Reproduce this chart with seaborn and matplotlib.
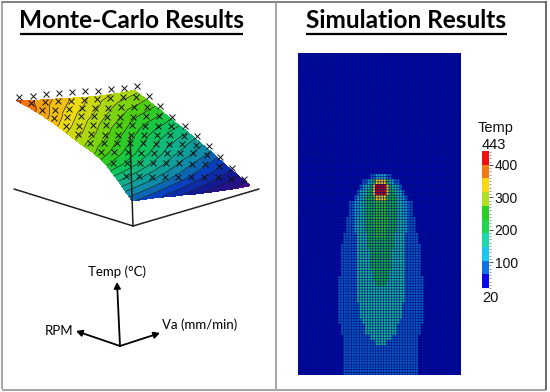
import numpy as np
import pandas as pd
import seaborn as sns
import matplotlib.pyplot as plt
from matplotlib.colors import ListedColormap, LinearSegmentedColormap

# -----------------------------
# Data
# -----------------------------

# surface: height (px-like temp units), rows = Va, columns = RPM
va_vals = [0.0, 0.103, 0.207, 0.31, 0.413, 0.517, 0.62, 0.723, 0.827, 0.93]
rpm_vals = [0.0, 0.106, 0.213, 0.319, 0.426, 0.532, 0.639, 0.745, 0.852, 0.958]
surface_temp = [
    [25, 40, 54, 62, 67, 73, 79, 84, 88, 91],
    [23, 37, 50, 58, 63, 70, 75, 80, 84, 87],
    [21, 34, 46, 54, 60, 66, 71, 76, 80, 84],
    [18, 31, 42, 50, 56, 62, 67, 72, 77, 81],
    [16, 28, 38, 46, 52, 58, 63, 69, 74, 78],
    [13, 25, 34, 42, 48, 54, 60, 65, 71, 75],
    [11, 22, 30, 38, 44, 50, 56, 62, 67, 72],
    [9, 19, 27, 35, 41, 47, 53, 59, 64, 70],
    [7, 16, 24, 31, 38, 44, 51, 57, 63, 68],
    [6, 13, 20, 28, 35, 42, 48, 55, 61, 67],
]

# monte-carlo points
mc_rpm = [0.05, 0.15, 0.25, 0.34, 0.44, 0.54, 0.64, 0.74, 0.83, 0.93]
mc_temp = [
    [48, 58, 65, 71, 76, 81, 85, 89, 93, 96],
    [44, 54, 61, 67, 72, 77, 82, 86, 90, 93],
    [40, 50, 57, 63, 68, 74, 79, 83, 87, 91],
    [36, 46, 53, 59, 64, 70, 75, 80, 84, 88],
    [32, 42, 49, 55, 60, 66, 71, 76, 81, 85],
    [28, 38, 45, 51, 56, 62, 67, 72, 78, 82],
    [24, 34, 41, 47, 52, 58, 63, 69, 75, 79],
    [20, 30, 37, 43, 48, 54, 60, 66, 72, 77],
    [15, 24, 31, 38, 44, 50, 56, 62, 69, 74],
    [11, 18, 26, 33, 40, 46, 52, 59, 66, 72],
]

surface_colors = ["#4b0a8c", "#14148c", "#0a3cc0", "#0f8fa8", "#12b48c", "#10c850",
                  "#3ccc10", "#a8d810", "#f0dc10", "#f59a10", "#e82a10"]

# plate: half width in cells of each temperature zone, per row band below the tip
zone_temps = [80, 130, 170, 215, 250, 320, 430]
zone_halfwidth = [
    [4, 7, 8, 9, 10, 12, 12, 12, 13, 13, 13, 14, 14, 15, 15, 15, 15, 15, 15, 16, 16, 16, 16, 16, 16,
     16, 16, 16, 15, 15, 14, 14, 14, 14, 14, 14, 14, 14],
    [2, 5, 7, 8, 9, 10, 10, 10, 10, 10, 10, 9, 9],
    [0, 4, 6, 7, 7, 8, 8, 8, 9, 9, 9, 9, 9, 9, 9, 9, 9, 9, 9, 9, 9, 9, 9, 9, 8, 8, 8, 7, 6, 6, 4, 2],
    [0, 3, 4, 5, 6, 6, 6, 6, 6, 6, 6, 5, 5, 5, 4, 4, 4, 4, 3, 3, 2],
    [0, 2, 3, 3, 3, 2, 2, 2, 3, 3, 2, 2],
    [0, 2, 3, 3, 2],
    [0, 0, 2, 2],
]

# colorbar
bar_temps = [422, 380, 337, 295, 253, 210, 168, 126, 83, 41]
bar_colors = ["#f01010", "#f57a10", "#f8d810", "#b0e020", "#28d020",
              "#20d850", "#18dcb0", "#18c8f0", "#1070e8", "#0808e8"]
plate_colors = ["#0008a8", "#0a5cc8", "#10a8c8", "#14c0a0", "#14b840",
                "#30c420", "#a8d420", "#f0cc10", "#f07010", "#c00808"]
bar_ticks = [100, 200, 300, 400]

# -----------------------------
# Figure and layout
# -----------------------------

W, H = 550, 392
sns.set_theme(style="white")
plt.rcParams["font.family"] = ["Liberation Sans", "DejaVu Sans"]

fig = plt.figure(figsize=(W / 100, H / 100), dpi=100, facecolor="white")


def px_axes(x0, y0, x1, y1):
    return fig.add_axes([x0 / W, 1 - y1 / H, (x1 - x0) / W, (y1 - y0) / H])


bg = px_axes(0, 0, W, H)
bg.set_xlim(0, W)
bg.set_ylim(H, 0)
bg.axis("off")

# frame
for xs, ys, col in [([1.5, 1.5], [1, 389], "#8c8c8c"), ([1.5, 546], [1.5, 1.5], "#606060"),
                    ([1.5, 546], [389.5, 389.5], "#8c8c8c"), ([275.5, 275.5], [1, 389], "#8c8c8c"),
                    ([546, 546], [1, 390], "#404040")]:
    bg.plot(xs, ys, color=col, lw=1.1, solid_capstyle="butt")

# titles
for txt, x, x0, x1 in [("Monte-Carlo Results", 131.5, 20, 243), ("Simulation Results", 406.5, 306, 507)]:
    bg.text(x, 28, txt, family="Lato", weight="bold", fontsize=17.6, ha="center", va="baseline", color="black")
    bg.plot([x0, x1], [34, 34], color="black", lw=1.6, solid_capstyle="butt")


# -----------------------------
# Left panel: projected surface
# -----------------------------

def project(va, rpm, temp):
    sx = 133 + 126 * va - 119 * rpm - 0.03 * temp
    sy = 226 - 37 * va - 36 * rpm - temp
    return sx, sy


va_g, rpm_g = np.meshgrid(va_vals, rpm_vals, indexing="ij")
z = np.array(surface_temp, dtype=float)
sx, sy = project(va_g, rpm_g, z)

cmap = LinearSegmentedColormap.from_list("surf", surface_colors)
levels = np.linspace(4, 94, 23)
bg.contourf(sx, sy, z, levels=levels, cmap=cmap, zorder=2)
bg.contour(sx, sy, z, levels=levels[1:-1], colors="#1a1a1a", linewidths=0.45, zorder=3)

# base axes of the 3d view
for xs, ys in [([14, 133], [189, 226]), ([133, 259], [226, 189]), ([130, 133], [136, 226])]:
    bg.plot(xs, ys, color="#202020", lw=1.1, zorder=5)

mc_va, mc_r = np.meshgrid(va_vals, mc_rpm, indexing="ij")
mx, my = project(mc_va, mc_r, np.array(mc_temp, dtype=float))
points = pd.DataFrame({"x": mx.ravel(), "y": my.ravel()})
sns.scatterplot(data=points, x="x", y="y", marker="x", s=18, color="#101010", linewidth=0.7, ax=bg, zorder=4)
bg.set_xlim(0, W)
bg.set_ylim(H, 0)
bg.axis("off")

# axis key
for tip in [(117, 282), (76, 331), (160, 333)]:
    bg.annotate("", xy=tip, xytext=(120, 346),
                arrowprops=dict(arrowstyle="-|>,head_width=0.16,head_length=0.3", color="black", lw=1.3,
                                shrinkA=0, shrinkB=0))
bg.text(117, 272, "Temp (°C)", family="Lato", fontsize=9.5, ha="center", va="center", color="black")
bg.text(59, 331, "RPM", family="Lato", fontsize=9.5, ha="center", va="center", color="black")
bg.text(162, 325, "Va (mm/min)", family="Lato", fontsize=9.5, ha="left", va="center", color="black")

# -----------------------------
# Right panel: plate heatmap
# -----------------------------

n_rows, n_cols = 120, 61
center = 30.7
first_row = 45
band_rows = 2

plate = np.full((n_rows, n_cols), 25.0)
cols = np.arange(n_cols) + 0.5
for temp, widths in zip(zone_temps, zone_halfwidth):
    for k, half in enumerate(widths):
        if half == 0:
            continue
        r0 = first_row + k * band_rows
        plate[r0:r0 + band_rows, np.abs(cols - center) <= half] = temp

ax = px_axes(298, 53, 461, 375)
sns.heatmap(plate, ax=ax, vmin=20, vmax=443, cmap=ListedColormap(plate_colors), cbar=False,
            xticklabels=False, yticklabels=False)
# the dark mesh of the model
ax.hlines(range(n_rows + 1), 0, n_cols, color="#000a78", lw=0.6, alpha=0.75, snap=False)
ax.vlines(range(n_cols + 1), 0, n_rows, color="#000a78", lw=0.6, alpha=0.75, snap=False)

# colorbar
cax = px_axes(482, 151, 489, 288)
sns.heatmap(np.array(bar_temps).reshape(-1, 1), ax=cax, vmin=20, vmax=443,
            cmap=ListedColormap(bar_colors[::-1]), cbar=False, xticklabels=False)
to_pos = lambda v: (443 - v) / 423 * len(bar_temps)
cax.yaxis.tick_right()
cax.set_yticks([to_pos(v) for v in bar_ticks])
cax.set_yticklabels([str(v) for v in bar_ticks], rotation=0, fontsize=10, color="#101010")
cax.set_yticks([to_pos(v) for v in range(20, 443, 10)], minor=True)
cax.tick_params(axis="y", which="major", right=True, length=3, width=0.6, pad=1, color="#303030")
cax.tick_params(axis="y", which="minor", right=True, length=1.5, width=0.4, color="#505050")

bg.text(478, 128, "Temp", fontsize=10.5, ha="left", va="center", color="#101010")
bg.text(482, 145, "443", fontsize=10.5, ha="left", va="center", color="#101010")
bg.text(482, 298, "20", fontsize=10.5, ha="left", va="center", color="#101010")

fig.savefig("out.png", dpi=100)
